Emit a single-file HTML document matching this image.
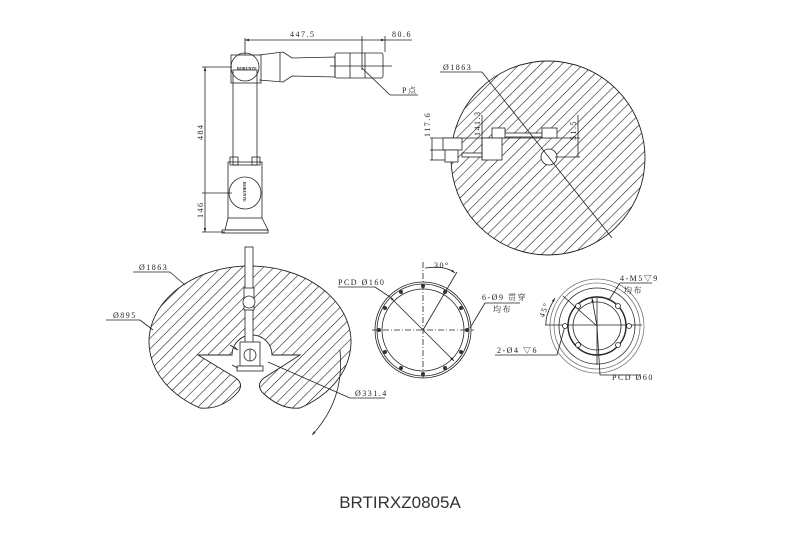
<!DOCTYPE html>
<html><head><meta charset="utf-8"><style>
html,body{margin:0;padding:0;background:#fff;}
svg{display:block;}
text{font-family:"Liberation Serif","Noto Serif CJK SC",serif;font-size:8px;fill:#222;letter-spacing:1.5px;}
</style></head><body>
<svg width="800" height="533" viewBox="0 0 800 533" xmlns="http://www.w3.org/2000/svg">
<defs>
<pattern id="h" patternUnits="userSpaceOnUse" width="7.5" height="10" patternTransform="rotate(45)">
<line x1="0" y1="0" x2="0" y2="10" stroke="#111" stroke-width="1.1"/>
</pattern>
<marker id="a" viewBox="0 0 10 10" refX="10" refY="5" markerWidth="5" markerHeight="5" orient="auto-start-reverse"><path d="M0,2 L10,5 L0,8z" fill="#222"/></marker>
</defs>
<g fill="none" stroke="#222" stroke-width="0.8">

<!-- TOP LEFT ROBOT -->
<line x1="245" y1="40" x2="385" y2="40" marker-start="url(#a)" marker-end="url(#a)"/>
<line x1="245" y1="38" x2="245" y2="55"/><line x1="362" y1="36" x2="362" y2="70"/><line x1="385" y1="36" x2="385" y2="52"/><line x1="385" y1="40" x2="412" y2="40"/>
<line x1="205" y1="67" x2="205" y2="232" marker-start="url(#a)" marker-end="url(#a)"/>
<line x1="202" y1="67" x2="232" y2="67"/><line x1="202" y1="193" x2="232" y2="193"/><line x1="202" y1="232" x2="225" y2="232"/>
<rect x="233" y="70" width="24" height="95"/>
<rect x="231" y="55" width="30" height="28"/>
<circle cx="245" cy="67" r="14"/>
<path d="M259,55 L283,52 L292,58 L335,57 L335,77 L292,76 L283,82 L259,80"/>
<line x1="280" y1="53" x2="280" y2="81"/>
<rect x="335" y="53" width="48" height="25" rx="2"/>
<line x1="350" y1="53" x2="350" y2="78"/><line x1="365" y1="53" x2="365" y2="78"/>
<line x1="330" y1="66" x2="392" y2="66"/>
<line x1="362" y1="68" x2="390" y2="95"/><line x1="390" y1="95" x2="418" y2="95"/>
<rect x="228" y="162" width="34" height="56"/>
<rect x="230" y="157" width="8" height="8"/><rect x="252" y="157" width="8" height="8"/>
<circle cx="245" cy="193" r="16"/>
<path d="M228,218 L225,230 L268,230 L262,218"/><rect x="222" y="230" width="46" height="3"/>
</g>
<text x="290" y="37">447.5</text><text x="392" y="37">80.6</text>
<text x="402" y="93">P点</text>
<text transform="translate(203,140) rotate(-90)">484</text>
<text transform="translate(203,218) rotate(-90)">146</text>
<text x="237" y="70" style="font-size:4px;letter-spacing:0" font-weight="bold">BORUNTE</text>
<text transform="translate(243,182) rotate(90)" style="font-size:4px;letter-spacing:0" font-weight="bold">BORUNTE</text>

<!-- TOP RIGHT CIRCLE -->
<circle cx="548" cy="158" r="97" fill="url(#h)" stroke="#222" stroke-width="0.9"/>
<g fill="#fff" stroke="#222" stroke-width="0.8">
<line x1="430" y1="138" x2="580" y2="138"/>
<rect x="462" y="153" width="22" height="4"/>
<rect x="502" y="133" width="40" height="4"/>
<rect x="443" y="138" width="19" height="12"/><rect x="445" y="150" width="13" height="12"/>
<rect x="492" y="128" width="13" height="10"/><rect x="482" y="138" width="20" height="22"/>
<rect x="542" y="128" width="15" height="10"/>
<circle cx="549" cy="157" r="8"/>
</g>
<g fill="none" stroke="#222" stroke-width="0.8">
<line x1="440" y1="72" x2="482" y2="72"/><line x1="482" y1="72" x2="612" y2="238"/>
<line x1="432" y1="138" x2="432" y2="160"/><line x1="430" y1="150" x2="445" y2="150"/><line x1="430" y1="160" x2="445" y2="160"/>
<line x1="482" y1="115" x2="482" y2="160"/>
<line x1="578" y1="115" x2="578" y2="157"/><line x1="555" y1="157" x2="580" y2="157"/>
</g>
<text x="443" y="70">Ø1863</text>
<text transform="translate(430,137) rotate(-90)">117.6</text>
<text transform="translate(480,136) rotate(-90)">141.3</text>
<text transform="translate(576,140) rotate(-90)">51.5</text>

<!-- BOTTOM LEFT KIDNEY -->
<path d="M198,355 L232,355 A20,20 0 0 1 272,355 L300,355 L264,378 Q256,384 262,392 Q280,410 300,408 A101,76 0 1 0 200,408 Q222,410 238,392 Q244,384 236,378 Z" fill="url(#h)" stroke="none"/>
<path d="M198,355 L232,355 A20,20 0 0 1 272,355 L300,355 L264,378 Q256,384 262,392 Q280,410 300,408 A101,76 0 1 0 200,408 Q222,410 238,392 Q244,384 236,378 Z" fill="none" stroke="#222" stroke-width="0.9"/>
<g fill="#fff" stroke="#222" stroke-width="0.8">
<rect x="245" y="247" width="8" height="98"/>
<rect x="244" y="288" width="10" height="22"/>
<circle cx="249" cy="302" r="6"/>
<rect x="240" y="342" width="20" height="24"/>
<circle cx="250" cy="355" r="6"/><line x1="250" y1="349" x2="250" y2="361"/>
<rect x="237" y="366" width="26" height="5"/>
</g>
<g fill="none" stroke="#222" stroke-width="0.8">
<line x1="133" y1="272" x2="170" y2="272"/><line x1="170" y1="272" x2="185" y2="285"/>
<line x1="106" y1="320" x2="140" y2="320"/><line x1="140" y1="320" x2="153" y2="330"/>
<line x1="268" y1="362" x2="350" y2="398"/><line x1="350" y1="398" x2="385" y2="398"/>
<path d="M340,350 Q345,400 312,435" marker-end="url(#a)"/>
<line x1="230" y1="345" x2="238" y2="350" marker-end="url(#a)"/>
<line x1="232" y1="365" x2="238" y2="368"/>
</g>
<text x="139" y="270">Ø1863</text><text x="113" y="318">Ø895</text><text x="355" y="396">Ø331.4</text>

<!-- PCD160 CIRCLE -->
<g fill="none" stroke="#222" stroke-width="0.8">
<circle cx="423" cy="330" r="48"/><circle cx="423" cy="330" r="46"/><circle cx="423" cy="330" r="41"/>
<line x1="423" y1="262" x2="423" y2="380" stroke-dasharray="6,2,1,2"/>
<line x1="372" y1="330" x2="474" y2="330" stroke-dasharray="6,2,1,2"/>
<line x1="423" y1="330" x2="457" y2="272"/>
<line x1="390" y1="297" x2="454" y2="361" marker-start="url(#a)" marker-end="url(#a)"/>
<line x1="338" y1="287" x2="375" y2="287"/><line x1="375" y1="287" x2="390" y2="297"/>
<path d="M425,268 Q445,265 455,273" marker-end="url(#a)"/>
<line x1="485" y1="303" x2="520" y2="303"/><line x1="485" y1="303" x2="470" y2="328"/>
</g>
<g fill="#333"><circle cx="423" cy="286" r="2"/><circle cx="445" cy="292" r="2"/><circle cx="461" cy="308" r="2"/><circle cx="467" cy="330" r="2"/><circle cx="461" cy="352" r="2"/><circle cx="445" cy="368" r="2"/><circle cx="423" cy="374" r="2"/><circle cx="401" cy="368" r="2"/><circle cx="385" cy="352" r="2"/><circle cx="379" cy="330" r="2"/><circle cx="385" cy="308" r="2"/><circle cx="401" cy="292" r="2"/></g>
<text x="338" y="285">PCD Ø160</text><text x="434" y="268">30°</text>
<text x="482" y="300">6-Ø9 贯穿</text><text x="493" y="312">均布</text>

<!-- RIGHT FLANGE -->
<g fill="none" stroke="#222" stroke-width="0.8">
<circle cx="597" cy="326" r="47" stroke="#777"/><circle cx="597" cy="326" r="43" stroke="#777"/>
<circle cx="597" cy="326" r="38"/><circle cx="597" cy="326" r="29" stroke-width="1.4"/><circle cx="597" cy="326" r="24"/>
<line x1="545" y1="325" x2="642" y2="325"/>
<line x1="597" y1="298" x2="597" y2="365"/>
<line x1="597" y1="326" x2="563" y2="296"/><line x1="597" y1="326" x2="592" y2="298" marker-end="url(#a)"/><line x1="597" y1="326" x2="600" y2="375"/>
<line x1="600" y1="375" x2="640" y2="375"/>
<path d="M555,298 Q545,315 546,325" marker-start="url(#a)"/>
<line x1="620" y1="283" x2="652" y2="283"/><line x1="620" y1="283" x2="609" y2="300"/>
<line x1="495" y1="355" x2="557" y2="355"/><line x1="557" y1="355" x2="565" y2="326"/>
</g>
<g fill="#fff" stroke="#222" stroke-width="0.8"><circle cx="578" cy="306" r="2.5"/><circle cx="618" cy="306" r="2.5"/><circle cx="578" cy="345" r="2.5"/><circle cx="618" cy="345" r="2.5"/><circle cx="565" cy="326" r="2.5"/><circle cx="629" cy="326" r="2.5"/></g>
<text x="620" y="281">4-M5▽9</text><text x="624" y="293">均布</text>
<text transform="translate(544,318) rotate(-70)">45°</text>
<text x="497" y="353">2-Ø4 ▽6</text><text x="612" y="380">PCD Ø60</text>

<text x="400" y="508" text-anchor="middle" style="font-family:'Liberation Sans',sans-serif;font-size:17px;letter-spacing:0;fill:#333">BRTIRXZ0805A</text>
</svg>
</body></html>
